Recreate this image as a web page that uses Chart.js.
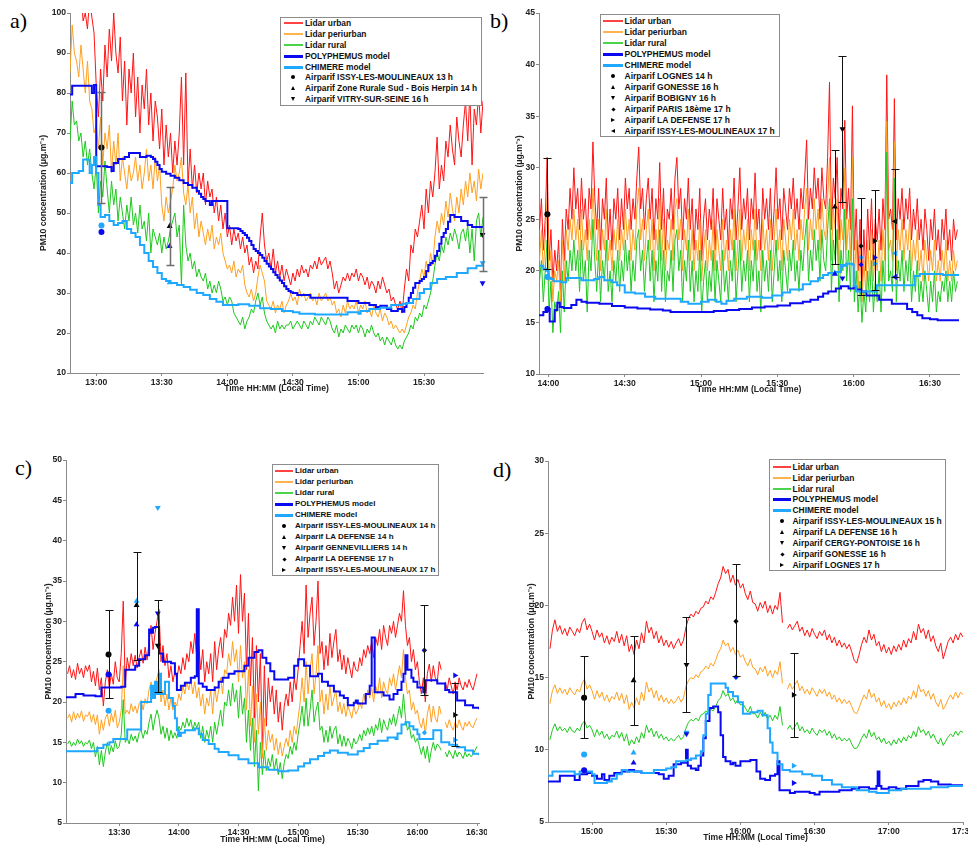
<!DOCTYPE html>
<html lang="en">
<head>
<meta charset="UTF-8">
<title>PM10 concentration - lidar, models and Airparif stations</title>
<script src="https://cdn.jsdelivr.net/npm/chart.js@4"></script>
<style>
  html, body { margin: 0; padding: 0; background: #fff; overflow: hidden; }
  body { width: 968px; height: 844px; position: relative; font-family: "Liberation Sans", Arial, sans-serif; }
  canvas { position: absolute; }
  .tag { position: absolute; font-family: "Liberation Serif", "Times New Roman", serif; font-size: 22px; line-height: 22px; color: #000; }
  .lg { position: absolute; box-sizing: border-box; border: 1px solid #8c8c8c; background: #fff; }
  .lt { position: absolute; font-weight: bold; line-height: 12px; white-space: nowrap; color: #111; }
  .ls, .mk { position: absolute; }
</style>
</head>
<body>
<script>
// time values are minutes after midnight (local time)

// ---------- panel a ----------
const aLidarStart = 768, aLidarStep = 1;
const aUrban = [108,112,105,115,110,106,98,100,96,104,
  99,95,82,74,86,78,92,84,96,88, 100,90,85,94,78,88,72,86,80,90,
  74,84,70,82,76,86,72,80,68,78, 74,66,76,62,72,64,70,60,68,62,
  70,84,62,85,57,66,56,62,55,60, 56,60,52,58,54,56,50,54,48,52,
  46,50,44,47,42,46,43,45,41,44, 40,42,37,39,35,38,36,44,50,42,
  38,40,36,41,35,38,34,37,33,36, 34,32,35,33,36,34,37,35,36,34,
  37,36,38,36,39,37,38,39,36,38, 35,31,33,30,32,34,33,35,33,35,
  34,36,33,35,34,32,34,31,33,32, 30,33,31,34,32,30,31,28,29,27,
  26,28,25,31,36,33,42,40,46,44, 48,52,46,56,50,58,54,60,69,56,
  62,58,68,64,72,66,62,74,68,64, 72,78,68,80,62,76,72,80,70,78];
const aPeri = [85,97,90,88,84,92,86,80,88,78,
  76,70,72,66,74,62,70,66,72,60, 68,62,70,58,64,60,56,62,58,60,
  64,58,62,56,60,66,58,62,56,64, 58,62,52,48,54,50,53,56,62,58,
  60,64,55,52,57,50,54,46,50,44, 48,45,42,46,43,47,41,44,42,45,
  40,38,36,37,35,38,34,36,35,37, 32,30,29,31,28,30,34,37,35,33,
  28,27,26,28,25,27,26,28,25,27, 28,30,28,29,27,31,29,30,28,29,
  30,28,29,27,30,28,29,30,28,29, 27,28,25,26,24,27,25,28,26,27,
  26,28,25,27,26,28,25,26,24,27, 25,24,26,23,25,24,22,23,21,22,
  21,20,21,20,22,24,25,27,26,30, 33,36,34,38,35,40,37,44,48,45,
  50,47,53,49,55,51,48,54,50,56, 52,58,54,60,55,58,53,61,56,60];
const aRural = [68,78,72,73,68,70,64,68,62,66,
  60,56,62,50,58,54,63,56,50,58, 52,56,48,54,50,46,52,48,54,47,
  50,45,52,46,48,43,50,40,46,44, 42,45,40,44,41,43,46,48,50,44,
  47,32,52,42,38,40,36,38,34,36, 34,33,35,31,33,30,32,30,33,31,
  28,29,27,29,28,25,24,23,22,24, 21,23,24,26,25,28,30,27,29,25,
  23,22,21,22,20,23,21,22,21,22, 22,23,21,22,23,22,21,23,22,21,
  23,22,24,23,22,24,23,22,24,23, 21,20,22,19,21,20,22,21,20,22,
  21,22,20,22,21,19,21,20,22,20, 19,20,18,19,17,19,18,17,19,17,
  16,17,16,18,19,20,22,21,24,23, 25,24,27,26,28,30,33,37,40,38,
  42,40,44,42,45,43,46,44,41,45, 46,43,47,40,46,38,48,50,44,49];
const aPolyphemus = [[768,79.6],[769,81.8],[777,81.8],[778,80],[779,82],[780,61.7],[785,61.5],[787,60.5],
  [788,62.5],[790,63.5],[793,64],[795,65],[800,64],[803,64.3],[805,64],[806,63.5],[807,62.8],[808,62],
  [809,61],[810,60.3],[812,59.8],[814,59.3],[816,58.8],[818,58.2],[820,57.5],[822,57],[824,56.3],
  [826,55.5],[827,54.8],[828,54],[829,53.5],[830,53],[832,52],[833,53],[838,53],[840,46.2],[845,46],
  [846,45.5],[847,45],[848,44.5],[849,43.8],[850,43],[851,42],[852,41],[853,40.5],[854,40],[855,39.5],
  [856,38.8],[857,38],[858,37.3],[859,36.6],[860,36],[861,35.2],[862,34.5],[863,33.8],[864,33.1],
  [865,32.5],[866,31.7],[867,31],[868,30.5],[869,30.2],[870,30],[872,29.5],[878,28.8],[892,28.8],
  [895,28],[900,27.5],[905,27],[908,26.5],[910,26.8],[913,26],[915,25.5],[918,26],[920,25.3],
  [921,26.5],[922,27.5],[923,28.8],[924,30],[925,31.3],[926,32.5],[928,33],[929,33.5],[930,34],
  [931,35.5],[932,37],[933,37.5],[934,38],[935,39.3],[936,40.5],[937,42.3],[938,44],[939,45],[940,46],
  [941,47.8],[942,49.5],[944,49],[947,48],[950,47],[952,46.5],[957,46.5]];
const aChimere = [[768,57.5],[769,60],[772,60.5],[774,63.4],[776,63.3],[777,60],[778,62],[779,64],
  [780,60],[781,52],[782,49],[784,49.5],[786,48],[788,47],[790,47.5],[792,48],[794,46],[796,45],
  [798,44],[800,42],[802,40],[804,38],[806,36.5],[808,35],[810,33.5],[812,33],[814,32.5],[817,32],
  [820,31.5],[823,30.8],[826,30],[829,29.5],[832,28.5],[835,27.8],[838,27],[845,27.2],[850,26.8],
  [855,26.2],[860,26],[865,25.5],[870,25.2],[873,24.8],[880,24.6],[890,24.6],[895,25.2],[900,24.8],
  [901,25.5],[905,26],[910,26.3],[915,27],[920,27.3],[922,27.5],[925,28.5],[928,30],[930,31],
  [933,32.5],[936,33.5],[940,34],[945,35],[950,36.2],[954,36.8],[957,36.8]];
const aStations = ['Airparif ISSY-LES-MOULINEAUX 13 h', 'Airparif Zone Rurale Sud - Bois Herpin 14 h', 'Airparif VITRY-SUR-SEINE 16 h'];
const aStShape = ['circle', 'up', 'down'];
const aStTime = [782.4, 813.6, 956.8];
const aStObs = [66.4, 46.7, 44.6];
const aStLow = [52.5, 37.0, 35.4];
const aStHigh = [80.3, 56.4, 54.0];
const aStPoly = [45.25, 41.7, 32.5];
const aStChim = [46.9, 32.6, 37.5];
const aTickVals = [780, 810, 840, 870, 900, 930];
const aTickLabels = ['13:00', '13:30', '14:00', '14:30', '15:00', '15:30'];

// ---------- panel b ----------
const bLidarStart = 836.5, bLidarStep = 0.75;
const bUrban = [24,27,22,25,31,21,24,19,22,20, 23,18,25,21,26,24,28,25,30,26,
  28,24,29,25,27,23,28,26,32.5,27, 24,28,22,27,25,29,23,26,22,27,
  25,28,23,27,24,29,26,28,24,27, 25,29,32,26,28,24,27,29,25,28,
  23,27,25,30.5,24,28,22,26,25,28, 24,29,31,26,28,23,27,25,29,24,
  27,22,26,24,28,21,25,27,23,26, 24,28,22,27,25,23,28,24,26,22,
  27,25,29,23,26,30,24,27,25,28, 23,27,25,29.5,24,26,22,28,25,27,
  24,28,23,26,30,25,27,23,28,26, 24,28,26,29,25,27,24,28,26,29,
  32.7,25,28,26,30,27,29,25,30,27, 26,31,38.3,24,29,27,31,23,28,26,
  34.6,25,28,24,36,22,26,20,25,18, 24,20,26,22,27,21,25,23,26,22,
  27,24,39,25,26,24,36.7,23,27,25, 28,24,27,25,28,23,26,24,27,23,
  25,22,26,24,21,25,23,26,22,24, 21,25,23,26,22,24,21,25,23,24];
const bPeri = [21,24,20,23,27,19,22,17,20,19, 21,17,23,19,24,22,25,23,26,23,
  25,21,26,22,24,21,25,23,28,24, 21,25,20,24,22,26,21,23,20,24,
  22,25,21,24,22,26,23,25,21,24, 22,26,28,23,25,21,24,26,22,25,
  20,24,22,27,21,25,20,23,22,25, 21,26,27,23,25,20,24,22,26,21,
  24,20,23,21,25,19,22,24,20,23, 21,25,20,24,22,20,25,21,23,20,
  24,22,26,20,23,26,21,24,22,25, 20,24,22,26,21,23,20,25,22,24,
  21,25,20,23,26,22,24,20,25,23, 21,25,23,26,22,24,21,25,23,26,
  28,22,25,23,27,24,26,22,27,24, 23,27,31,21,26,24,27,20,25,23,
  30,22,25,21,31,19,23,18,22,17, 21,18,23,19,24,19,22,20,23,19,
  24,21,34.5,22,23,21,32.5,20,24,22, 25,21,24,22,25,20,23,21,24,20,
  22,19,23,21,19,22,20,23,19,21, 19,22,20,23,19,21,19,22,20,21];
const bRural = [19,21,17,20,23,16,19,14,17,16, 18,14,20,16,21,19,22,20,23,20,
  22,18,23,19,21,16,22,20,25,21, 18,22,17,21,19,23,18,20,17,21,
  19,22,18,21,19,23,20,22,18,21, 19,23,24,20,22,18,21,23,19,22,
  17,21,19,24,18,22,17,20,19,22, 18,23,24,20,22,17,21,19,23,18,
  21,17,20,18,22,16,19,21,17,20, 18,22,17,21,19,17,22,18,20,17,
  21,19,23,17,20,23,18,21,19,22, 17,21,19,23,18,20,16,22,19,21,
  18,22,17,20,23,19,21,17,22,20, 18,22,20,23,19,21,18,22,20,23,
  25,19,22,20,24,21,23,19,24,21, 20,24,27,18,23,21,24,17,22,20,
  26,19,22,18,27,17,20,16,19,15, 18,16,20,17,21,16,19,17,20,16,
  21,18,31.5,19,20,18,29,17,21,19, 22,18,21,19,22,17,20,18,21,17,
  19,17,20,18,16,19,17,20,16,18, 17,19,18,20,17,19,17,20,18,19];
const bPolyphemus = [[836.3,15.7],[838,16.0],[839.5,16.3],[840.5,15.1],[842.5,16.2],[843.5,16.9],[844.5,16.5],
  [846,16.4],[849,16.7],[851,17.2],[853,17.0],[855,16.9],[860,16.8],[865,16.6],[870,16.45],[875,16.35],
  [880,16.25],[885,16.15],[888,16.0],[895,16.0],[900,16.0],[905,16.1],[910,16.2],[915,16.3],[920,16.45],
  [925,16.55],[930,16.65],[935,16.85],[940,17.0],[943,17.2],[946,17.5],[948,17.8],[950,18.0],[953,18.3],
  [955,18.5],[958,18.3],[960,18.4],[961,18.2],[963,18.0],[965,17.6],[967,17.6],[970,17.2],[973,17.2],
  [975,16.8],[979,16.8],[981,16.3],[983,16.0],[985,15.7],[987,15.4],[990,15.3],[993,15.2],[998,15.2],[1001.4,15.15]];
const bChimere = [[836.3,20.5],[838,20.2],[839,20.0],[840,19.3],[841,19.2],[842,19.0],[845,18.9],[847,19.3],
  [853,19.1],[858,19.2],[860,19.4],[862,19.1],[865,18.9],[867,18.6],[870,17.9],[874,17.8],[878,17.5],
  [882,17.3],[888,17.3],[892,17.0],[895,16.8],[900,17.0],[903,17.2],[906,17.0],[908,16.8],[910,17.1],
  [913,17.3],[918,17.5],[924,17.4],[928,17.6],[932,17.9],[935,18.2],[940,18.7],[943,19.0],[946,19.3],
  [948,19.6],[950,19.8],[953,19.9],[955,20.5],[957,20.7],[959.5,20.6],[960,18.5],[961,18.0],[968,18.0],
  [969,18.6],[983,18.6],[984,19.5],[986,19.7],[995,19.6],[1001.4,19.5]];
const bStations = ['Airparif LOGNES 14 h', 'Airparif GONESSE 16 h', 'Airparif BOBIGNY 16 h', 'Airparif PARIS 18ème 17 h', 'Airparif LA DEFENSE 17 h', 'Airparif ISSY-LES-MOULINEAUX 17 h'];
const bStShape = ['circle', 'up', 'down', 'diamond', 'right', 'left'];
const bStTime = [839.6, 952.6, 955.6, 962.9, 968.2, 976.3];
const bStObs = [25.5, 26.2, 33.75, 22.4, 22.9, 24.8];
const bStLow = [20.16, 20.7, 26.7, 17.7, 18.1, 19.4];
const bStHigh = [30.9, 31.7, 40.8, 27.1, 27.8, 29.9];
const bStPoly = [16.3, 19.7, 19.3, 20.6, 21.3, 19.4];
const bStChim = [19.4, 19.8, 20.5, 21.3, 20.7, 21.7];
const bTickVals = [840, 870, 900, 930, 960, 990];
const bTickLabels = ['14:00', '14:30', '15:00', '15:30', '16:00', '16:30'];

// ---------- panel c ----------
const cLidarStart = 784, cLidarStep = 1;
const cUrban = [23.5,24.5,23,24,22.8,24.8,23.5,24.2,23,24.5, 23.8,24.6,22.5,23.8,22,24.2,21.5,23,19.5,22.5,
  24,21.8,23.5,22.2,25,23,22.5,26,32.5,22, 25.5,24,26,24.5,25.8,24.2,25.5,26.5,24.8,26.8,
  25.2,27.5,29.5,26.5,28.5,30,31.5,25,27,24.5, 26,23,24.5,22.5,23.8,22.8,24.5,23.5,25.5,24,
  26,25,27.5,26,28.5,25.5,27,24,26.5,22.5, 25,23.5,26,22.5,27.5,24,26.5,28,25.5,29,
  28,31,29.5,33,30,34.5,28.5,35.8,30,33.5, 24,31,22,28,18,27,20,26,14,24.5,
  17,23,20,22,18.5,21.5,17.5,20,16.5,19.5, 21,19.5,22.5,20,23,21.5,24,27,30,26,
  34.5,28,31,33,27,30,35,26,27.5,24, 27,24.5,28.5,25.5,27.5,29,25,26.5,24,25.8,
  23.5,25.5,24.2,23,25,24,23.8,25.5,24.5,26.5, 25.5,27,26,27.5,25.5,28,27,29,26.5,29.5,
  28,27,29.5,28.5,30,28,29.5,31,30,33.8, 29.5,27,28,25,26.5,24,25,22.5,21,23,
  20,23.5,24.7,22.5,24.5,23,22.5,25,24,null, 22.5,21.5,23,22,21,22.5,21.5,23,22,21.5,
  22.5,21.8,22.8,22,21.5,22.5,23.5];
const cPeri = [18,18.5,17.5,18.8,17.8,18.6,18,18.9,17.6,18.4, 18.2,18.8,17.5,18.5,17.2,18.4,16,17.8,16.5,18,
  18.5,17,18.6,17.5,19,16.8,17.5,19,24.5,18.5, 19,18.5,19.8,18.8,19.5,18.6,19.8,20.2,19,20.4,
  19.8,21.5,22.5,20.5,22,23,24,20,21.5,19.5, 21,19,20.5,19,20,19.5,21,20.2,22,21,
  22.5,21.5,22.8,21,22.5,20.5,21.8,19.5,21,18.5, 20.5,19.5,21.5,18.5,22,20,21.5,23,21,24,
  23.5,26,24.5,27.5,25,26.5,22.5,27,23,25, 19,24,17,22,15,21,16,20,13,18,
  14,16.5,15,16,14,15.5,13.5,15,13.3,14.5, 15.5,14.5,16.5,15,17,16,18,20,23,20,
  25,21,24,26,21,23.5,27,20,21.5,18.5, 21,19,22,19.5,20.5,21.5,18.8,20,18.5,19.8,
  18.2,19.5,18.8,18,19.5,18.5,19,20,19.2,21, 20,21.5,20.5,21.8,20,22,21,23,20.5,22.5,
  21.5,21,23,22,23.5,21.5,23,24.5,23,26.5, 23,21,21.5,19,20,18.5,19,17.5,16.8,18,
  16,18.5,19.7,17.5,19.5,18,17.5,19.5,18.5,null, 17.5,16.8,17.8,17,16.5,17.5,16.8,17.8,17,16.5,
  17.5,17,17.6,17,16.8,17.5,18];
const cRural = [14.8,15.2,14.5,15,14.6,15.4,14.8,15.2,14.5,15, 14.8,15.3,14.2,15,13.2,14.5,12.2,14,12,13.8,
  15,13.5,14.6,13.8,15.2,14.2,14.5,16,20.3,15, 15.5,14.8,16,15.2,15.8,15,16.2,16.5,15.5,16.5,
  16,17.5,18.5,16.5,18,19,18,16,17,15.5, 16.8,15.2,16.5,15.5,16.2,15.5,17,16.5,17.5,16.8,
  18,17,17.8,16.5,17.5,16.8,17.5,15.5,17,15, 16.5,15.5,17,15,17.5,16,17.5,19,17,20,
  19.5,21.5,19.5,22.3,20,21.5,18,22,18.5,20.5, 15,19,14,18,12,16.5,9,15,11,14,
  11.5,13,12,13.5,11.5,13,11,12.5,10.5,12.5, 13.5,13,14.5,13.5,15,14,16,17.5,19.5,17,
  20.5,17,19,21.5,17.5,19,20,16.5,17,15, 16.5,15,17,15.5,16.5,17,14.8,16,14.5,15.8,
  14.5,15.5,15,14.2,15.5,14.8,15.2,16,15.2,16.5, 15.8,16.8,16,17,15.8,17.2,16.5,18,16.2,17.8,
  17,16.5,18,17.2,18.5,17,18.2,19.5,18,21, 18,16.5,17,15.5,16,15,15.5,14.5,13.5,14.5,
  13,14.5,12.5,14,15,14,14.8,14.5,14,null, 13.8,13.2,14,13.5,13,14,13.2,13.8,13.5,13,
  13.8,13.2,13.6,13.2,13.5,14,14.5];
const cPolyphemus = [[783.2,20.6],[788,21.0],[791,21.0],[792,20.8],[798,20.7],[801,21.8],[811,21.9],[813,24.0],
  [818,24.5],[820,25.3],[823,25.8],[825,29.0],[826,28.6],[827,29.2],[828,29.3],[830,26.0],[832,25.0],
  [836,24.8],[838,23.5],[839,21.5],[841,22.0],[843,22.4],[846,23.0],[848,23.2],[849,31.5],[850,22.3],
  [852,21.9],[854,21.5],[858,21.8],[860,22.5],[862,23.0],[865,23.5],[868,23.8],[870,23.8],[873,24.5],
  [875,25.5],[878,26.2],[880,26.4],[882,25.5],[884,24.8],[886,23.8],[888,22.8],[895,23.0],[898,24.5],
  [900,25.3],[903,24.5],[906,23.2],[910,23.5],[912,22.5],[915,22.0],[918,21.3],[921,20.8],[923,20.5],
  [925,19.6],[928,19.9],[929,20.2],[930,19.8],[934,21.0],[936,22.0],[937,28.0],[938.5,21.2],[943,20.8],
  [946,20.3],[948,21.0],[950,21.5],[952,22.5],[953,23.5],[954,25.8],[955,24.0],[957,23.0],[958,22.5],
  [960,21.8],[963,21.2],[964,22.7],[968,22.7],[970,22.3],[974,21.5],[976,21.2],[980,20.2],[984,19.6],
  [988,19.3],[991,19.1]];
const cChimere = [[783.2,13.9],[795,13.9],[799,14.3],[802,14.7],[805,15.0],[807,15.4],[813,15.4],[814,16.6],
  [820,16.6],[821,20.0],[825,20.0],[826,22.0],[827,20.5],[828,22.5],[829,21.0],[830,23.5],[831,21.0],
  [833,22.5],[835,20.5],[837,19.5],[838,18.0],[839,16.5],[840,15.8],[841,16.2],[843,16.5],[848,16.7],
  [850,16.0],[852,15.3],[855,14.8],[858,14.2],[860,13.8],[865,13.4],[870,12.9],[875,12.4],[880,11.9],
  [885,11.6],[890,11.4],[895,11.5],[900,12.0],[903,12.4],[906,12.9],[910,13.3],[913,13.7],[916,14.0],
  [920,13.7],[925,13.5],[930,13.9],[933,14.3],[936,14.8],[940,15.2],[945,15.6],[949,15.4],[950,16.1],
  [952,17.2],[954,17.5],[956,17.0],[958,16.6],[960,16.0],[961,15.4],[967,15.4],[968,16.5],[971,16.5],
  [972,15.0],[974,15.0],[976,14.7],[980,14.4],[984,14.0],[988,13.6],[991,13.4]];
const cStations = ['Airparif ISSY-LES-MOULINEAUX 14 h', 'Airparif LA DEFENSE 14 h', 'Airparif GENNEVILLIERS 14 h', 'Airparif LA DEFENSE 17 h', 'Airparif ISSY-LES-MOULINEAUX 17 h'];
const cStShape = ['circle', 'up', 'down', 'diamond', 'right'];
const cStTime = [804.6, 818.7, 829.4, 963.5, 978.9];
const cStObs = [25.9, 32.0, 27.0, 26.4, 18.4];
const cStLow = [20.5, 25.2, 21.3, 20.9, 14.5];
const cStHigh = [31.4, 38.6, 32.6, 32.0, 22.4];
const cStPoly = [23.4, 29.6, 31.0, 26.4, 23.3];
const cStChim = [18.9, 32.5, 44.1, 16.2, 15.3];
const cTickVals = [810, 840, 870, 900, 930, 960, 990];
const cTickLabels = ['13:30', '14:00', '14:30', '15:00', '15:30', '16:00', '16:30'];

// ---------- panel d ----------
const dLidarStart = 883, dLidarStep = 1;
const dUrban = [17,18.3,19,18.2,18.6,18,18.4,17.9,18.5,18.2, 17.9,18.4,18.1,18.8,19.1,18.3,18.7,18.2,17.6,18.3,
  17.8,18.1,17.4,17.9,17.3,17.8,17.5,18.2,17.4,18, 17.2,17.9,16.8,17.3,16.6,17.6,17,18.1,17.4,18.9,
  18.1,18.5,17.7,18.2,17.4,17.9,17.2,17.6,17.1,17.5, 17,17.4,17.7,17.2,17.6,18.5,19.1,19.4,19.2,19.6,
  19.4,19.8,19.9,20.3,20.1,20.6,20.4,20.9,21.5,21.9, 22.7,22.2,22.5,21.6,22.1,21.4,21.8,21.2,21.5,20.8,
  20.4,21,20.2,20.1,19.6,20.2,19.8,20.3,19.5,20, 19.4,20,19.7,20.9,18.8,null,18.4,18.7,18.3,18.6,
  18.9,18.2,18.5,17.9,18.3,17.8,18.4,18,17.7,18.2, 17.9,18.3,17.6,18,17.4,17.8,17.2,17.6,17.1,17.4,
  17,17.3,16.8,16.2,16,16.6,17.3,17.8,17.4,18.3, 17.6,18,17.2,17.5,16.8,17.3,16.7,17.1,16.6,17.2,
  16.8,17.3,16.9,17.6,17.1,17.7,17.4,18.2,17.6,18.7, 18.1,18.4,17.7,18.3,17.5,17.9,17.2,16.8,17.4,16.3,
  16.9,17.5,17.8,17.4,18,17.6,18.1,17.8];
const dPeri = [13.2,14.1,14.5,13.9,14.3,13.9,14.2,13.8,14.3,14, 13.8,14.2,14,14.6,14.9,14.2,14.5,14.1,13.5,14.1,
  13.6,14,13.4,13.8,13.3,13.7,13.5,14,13.4,13.9, 13.2,13.8,12.8,13.3,12.9,13.6,13.1,14,13.4,14.7,
  14,14.3,13.6,14.1,13.4,13.8,13.3,13.6,13.2,13.5, 13.2,13.4,13.7,13.3,13.6,14.4,14.8,15,14.9,15.2,
  15,15.4,15.5,15.8,15.6,16,15.8,16.2,16.7,17, 17.6,17.2,17.4,16.8,17.1,16.6,16.9,16.4,16.6,16.1,
  15.8,16.3,15.7,15.6,15.2,15.7,15.4,15.8,15.1,15.5, 15,15.5,15.2,16.1,14.6,null,14.2,14.6,14.2,14.5,
  14.8,14.1,14.4,13.9,14.2,13.8,14.3,14,13.7,14.2, 13.9,14.2,13.7,14,13.5,13.8,13.3,13.6,13.2,13.5,
  13.2,13.4,13,12.6,12.5,12.9,13.4,13.8,13.5,14.2, 13.6,13.9,13.3,13.6,13,13.4,12.9,13.2,12.8,13.3,
  13,13.4,13.1,13.6,13.2,13.7,13.5,14.1,13.6,14.5, 14,14.2,13.7,14.1,13.5,13.9,13.3,13,13.5,12.8,
  13.1,13.5,13.8,13.5,14,13.6,14,13.8];
const dRural = [10.7,11.4,11.8,11.3,11.6,11.3,11.5,11.2,11.6,11.3, 11.2,11.5,11.3,11.8,12,11.5,11.7,11.4,10.9,11.4,
  11,11.3,10.8,11.1,10.7,11,10.9,11.3,10.8,11.2, 10.6,11.1,10.3,10.7,10.4,10.9,10.5,11.2,10.8,11.7,
  11.2,11.5,10.9,11.3,10.8,11.1,10.7,10.9,10.6,10.8, 10.6,10.8,11,10.7,10.9,11.5,11.9,12.1,12,12.2,
  12,12.4,12.5,12.7,12.5,12.8,12.7,13,13.4,13.6, 14.1,13.7,13.9,13.4,13.6,13.2,13.5,13.1,13.2,12.9,
  12.6,13,12.5,12.5,12.2,12.6,12.3,12.6,12.1,12.4, 12,12.4,12.1,13,11.7,null,11.4,11.7,11.4,11.6,
  11.9,11.3,11.6,11.2,11.4,11.1,11.5,11.2,11,11.4, 11.2,11.4,11,11.3,10.8,11.1,10.7,10.9,10.6,10.8,
  10.6,10.8,10.4,10.1,10.1,10.4,10.8,11.1,10.8,11.4, 10.9,11.2,10.7,10.9,10.5,10.8,10.4,10.6,10.3,10.7,
  10.4,10.8,10.5,10.9,10.6,11,10.8,11.3,10.9,11.6, 11.2,11.4,11,11.3,10.8,11.1,10.7,10.4,10.8,10.3,
  10.6,10.9,11.1,10.9,11.3,11,11.3,11.2];
const dPolyphemus = [[882.2,7.8],[887,8.2],[893,7.9],[895,8.3],[898,8.4],[900,8.2],[902,8.0],[904,8.3],[905,7.9],
  [907,8.2],[909,8.4],[912,8.5],[915,8.6],[917,8.5],[920,8.4],[927,8.3],[929,8.0],[931,8.2],[933,9.0],
  [936,9.1],[938,10.0],[938.7,8.9],[940,8.7],[942,8.6],[943,8.9],[944,9.6],[945,10.8],[946,12.0],
  [947.5,12.9],[949,13.0],[951,12.6],[952,11.0],[953,9.5],[954,9.2],[956,9.0],[957,9.1],[958,8.9],
  [960,9.2],[964,9.3],[966.5,8.5],[968,8.0],[970,7.9],[972,8.2],[974,8.3],[975,9.2],[975.8,7.2],
  [980,7.0],[982,7.1],[988,7.0],[990,6.9],[992,7.1],[1000,7.2],[1005,7.3],[1008,7.4],[1012,7.3],
  [1015,7.5],[1015.5,8.5],[1016.2,7.5],[1017,7.3],[1020,7.4],[1023,7.3],[1027,7.5],[1032,7.8],
  [1034,7.9],[1037,7.8],[1040,7.6],[1045,7.55],[1050,7.55]];
const dChimere = [[882.2,8.2],[884,8.5],[893,8.3],[895,8.5],[900,8.3],[901,7.7],[906,7.8],[908,8.0],[910,8.3],
  [912,8.6],[914,8.5],[920,8.4],[925,8.6],[930,8.7],[932,8.8],[934,9.2],[938,9.3],[940,9.4],[942,9.6],
  [944,9.9],[945,11.0],[946,12.5],[947,13.8],[948,14.6],[954,14.3],[955,14.0],[957,13.7],[959,13.3],
  [961,12.5],[964,12.6],[967,12.7],[969,12.4],[971,11.5],[972,10.5],[973,9.8],[975,9.0],[977,8.6],
  [980,8.5],[985,8.3],[989,8.2],[993,7.9],[997,7.6],[1001,7.4],[1007,7.2],[1012,7.1],[1015,7.0],
  [1020,7.2],[1025,7.3],[1030,7.3],[1037,7.4],[1044,7.5],[1050,7.5]];
const dStations = ['Airparif ISSY-LES-MOULINEAUX 15 h', 'Airparif LA DEFENSE 16 h', 'Airparif CERGY-PONTOISE 16 h', 'Airparif GONESSE 16 h', 'Airparif LOGNES 17 h'];
const dStShape = ['circle', 'up', 'down', 'diamond', 'right'];
const dStTime = [896.8, 916.8, 938.2, 958.2, 981.5];
const dStObs = [13.6, 14.8, 15.9, 18.9, 13.8];
const dStLow = [10.8, 11.7, 12.6, 15.1, 10.9];
const dStHigh = [16.5, 17.9, 19.2, 22.9, 16.7];
const dStPoly = [8.58, 9.1, 11.1, 15.05, 7.7];
const dStChim = [9.67, 9.8, 11.2, 15.0, 8.9];
const dTickVals = [900, 930, 960, 990, 1020, 1050];
const dTickLabels = ['15:00', '15:30', '16:00', '16:30', '17:00', '17:30'];

const seriesNames = ['Lidar urban', 'Lidar periurban', 'Lidar rural', 'POLYPHEMUS model', 'CHIMERE model'];

// ---------- drawing ----------
const RED = '#ff1414', ORANGE = '#ffa020', GREEN = '#1ec81e', POLY = '#0a0af0', CHIM = '#1ea8ff';
const INK = '#222', AXIS = '#8a8a8a';
const SHAPES = {
  circle: {style: 'circle', rot: 0, r: 3},
  up: {style: 'triangle', rot: 0, r: 3.4},
  down: {style: 'triangle', rot: 180, r: 3.4},
  diamond: {style: 'rectRot', rot: 0, r: 2.6},
  right: {style: 'triangle', rot: 90, r: 3.4},
  left: {style: 'triangle', rot: 270, r: 3.4}
};
Chart.defaults.font.family = '"Liberation Sans", Arial, sans-serif';
const tickFont = {size: 8.6, weight: 'bold'};

function makePanel(P) {
  const g = P.g;
  const cv = document.createElement('canvas');
  cv.width = g.w; cv.height = g.h;
  cv.style.left = g.cl + 'px'; cv.style.top = g.ct + 'px';
  document.body.appendChild(cv);

  const lidar = vals => vals.map((v, i) => ({x: P.start + i * P.step, y: v}));
  const steps = arr => arr.map(p => ({x: p[0], y: p[1]}));
  const marks = vals => P.stTime.map((t, i) => ({x: t, y: vals[i]}));
  const sh = P.stShape.map(s => SHAPES[s]);
  const markerSet = (vals, color, order) => ({
    data: marks(vals), showLine: false, clip: false, order,
    pointStyle: sh.map(s => s.style), pointRotation: sh.map(s => s.rot), pointRadius: sh.map(s => s.r),
    pointBackgroundColor: color, pointBorderColor: color, pointBorderWidth: 0
  });
  const lineSet = (data, color, width, order, stepped) => ({
    data, borderColor: color, borderWidth: width, pointRadius: 0, spanGaps: false, stepped: !!stepped, order
  });

  const errBars = {
    id: 'errBars',
    afterDatasetsDraw(chart) {
      const {ctx, scales: {x, y}} = chart;
      ctx.save();
      ctx.strokeStyle = P.errColor;
      ctx.lineWidth = P.errWidth;
      P.stTime.forEach((t, i) => {
        const px = Math.round(x.getPixelForValue(t)) + 0.5;
        const y1 = Math.round(y.getPixelForValue(P.stLow[i])) + 0.5;
        const y2 = Math.round(y.getPixelForValue(P.stHigh[i])) + 0.5;
        ctx.beginPath();
        ctx.moveTo(px, y1); ctx.lineTo(px, y2);
        ctx.moveTo(px - 4, y1); ctx.lineTo(px + 4, y1);
        ctx.moveTo(px - 4, y2); ctx.lineTo(px + 4, y2);
        ctx.stroke();
      });
      ctx.restore();
    }
  };

  new Chart(cv, {
    type: 'line',
    data: {
      datasets: [
        lineSet(lidar(P.urban), RED, 1, 9),
        lineSet(lidar(P.peri), ORANGE, 1, 8),
        lineSet(lidar(P.rural), GREEN, 1, 7),
        lineSet(steps(P.poly), POLY, 2, 6, true),
        lineSet(steps(P.chim), CHIM, 2, 5, true),
        markerSet(P.stObs, '#000', 4),
        markerSet(P.stChim, CHIM, 3),
        markerSet(P.stPoly, POLY, 2)
      ]
    },
    options: {
      responsive: false, animation: false, events: [],
      layout: {padding: {top: g.pt, right: g.pr, left: 0, bottom: 0}},
      plugins: {legend: {display: false}, tooltip: {enabled: false}},
      scales: {
        x: {
          type: 'linear', min: P.xMin, max: P.xMax,
          afterBuildTicks: s => { s.ticks = P.tickVals.map(v => ({value: v})); },
          afterFit: s => { s.height = g.xh; s.paddingLeft = 0; s.paddingRight = 0; },
          ticks: {autoSkip: false, maxRotation: 0, padding: 1, color: INK, font: tickFont,
                  callback: (v, i) => P.tickLabels[i]},
          grid: {drawOnChartArea: false, tickLength: 3, color: AXIS},
          border: {color: AXIS},
          title: {display: true, text: 'Time HH:MM (Local Time)', color: INK, font: tickFont,
                  padding: {top: 0, bottom: g.xtp}}
        },
        y: {
          min: P.yMin, max: P.yMax,
          afterFit: s => { s.width = g.yw; s.paddingTop = 0; s.paddingBottom = 0; },
          ticks: {stepSize: P.yStep, padding: 1, color: INK, font: tickFont},
          grid: {drawOnChartArea: false, tickLength: 3, color: AXIS},
          border: {color: AXIS},
          title: {display: true, text: 'PM10 concentration (μg.m⁻³)', color: INK, font: tickFont,
                  padding: {top: g.ytp, bottom: 0}}
        }
      }
    },
    plugins: [errBars]
  });

  // legend box
  const L = P.lg;
  const box = document.createElement('div');
  box.className = 'lg';
  Object.assign(box.style, {left: L.l + 'px', top: L.t + 'px', width: (L.r - L.l) + 'px', height: (L.b - L.t) + 'px'});
  document.body.appendChild(box);
  const colors = [RED, ORANGE, GREEN, POLY, CHIM];
  const names = seriesNames.concat(P.stations);
  names.forEach((name, i) => {
    const cy = L.c0 + L.dy * i;
    const ry = Math.round(cy);
    if (i < 5) {
      const w = i < 3 ? 2 : 3;
      const s = document.createElement('div');
      s.className = 'ls';
      Object.assign(s.style, {left: L.lx0 + 'px', width: (L.lx1 - L.lx0) + 'px', top: (ry - 1) + 'px', height: w + 'px', backgroundColor: colors[i], opacity: i < 3 ? 0.8 : 1});
      document.body.appendChild(s);
    } else {
      const m = document.createElement('div');
      m.className = 'mk';
      const k = P.stShape[i - 5];
      const mx = L.mx;
      if (k === 'circle') Object.assign(m.style, {left: (mx - 2) + 'px', top: (ry - 2) + 'px', width: '4px', height: '4px', borderRadius: '50%', background: '#000'});
      if (k === 'diamond') Object.assign(m.style, {left: (mx - 1.5) + 'px', top: (ry - 1.5) + 'px', width: '3px', height: '3px', background: '#000', transform: 'rotate(45deg)'});
      if (k === 'up') Object.assign(m.style, {left: (mx - 2.5) + 'px', top: (ry - 2) + 'px', borderLeft: '2.5px solid transparent', borderRight: '2.5px solid transparent', borderBottom: '4px solid #000'});
      if (k === 'down') Object.assign(m.style, {left: (mx - 2.5) + 'px', top: (ry - 2) + 'px', borderLeft: '2.5px solid transparent', borderRight: '2.5px solid transparent', borderTop: '4px solid #000'});
      if (k === 'right') Object.assign(m.style, {left: (mx - 2) + 'px', top: (ry - 2.5) + 'px', borderTop: '2.5px solid transparent', borderBottom: '2.5px solid transparent', borderLeft: '4px solid #000'});
      if (k === 'left') Object.assign(m.style, {left: (mx - 2) + 'px', top: (ry - 2.5) + 'px', borderTop: '2.5px solid transparent', borderBottom: '2.5px solid transparent', borderRight: '4px solid #000'});
      document.body.appendChild(m);
    }
    const t = document.createElement('div');
    t.className = 'lt';
    t.textContent = name;
    Object.assign(t.style, {left: L.tx + 'px', top: (cy - 6) + 'px', fontSize: L.fs + 'px'});
    document.body.appendChild(t);
  });

  const tag = document.createElement('div');
  tag.className = 'tag';
  tag.textContent = P.tag;
  Object.assign(tag.style, {left: P.tagPos[0] + 'px', top: P.tagPos[1] + 'px'});
  document.body.appendChild(tag);
}

makePanel({
  tag: 'a)', tagPos: [10, 10],
  g: {cl: 35, ct: 5, w: 454, h: 391, yw: 35, pt: 8, pr: 6, xh: 23, ytp: 3.1, xtp: 2.5},
  lg: {l: 280, t: 17, r: 482, b: 106, c0: 22.7, dy: 10.95, lx0: 284, lx1: 303, tx: 305, mx: 293, fs: 8.4},
  xMin: 768, xMax: 957, yMin: 10, yMax: 100, yStep: 10,
  tickVals: aTickVals, tickLabels: aTickLabels,
  start: aLidarStart, step: aLidarStep, urban: aUrban, peri: aPeri, rural: aRural,
  poly: aPolyphemus, chim: aChimere,
  stations: aStations, stShape: aStShape, stTime: aStTime, stObs: aStObs, stLow: aStLow, stHigh: aStHigh,
  stPoly: aStPoly, stChim: aStChim, errColor: '#6e6e6e', errWidth: 1.5
});
makePanel({
  tag: 'b)', tagPos: [490, 10],
  g: {cl: 511, ct: 5, w: 454, h: 393, yw: 28, pt: 8, pr: 6, xh: 24, ytp: 3.1, xtp: 2.84},
  lg: {l: 600, t: 14, r: 780, b: 137, c0: 21, dy: 11, lx0: 603, lx1: 623, tx: 624.5, mx: 613, fs: 8.5},
  xMin: 836.3, xMax: 1001.4, yMin: 10, yMax: 45, yStep: 5,
  tickVals: bTickVals, tickLabels: bTickLabels,
  start: bLidarStart, step: bLidarStep, urban: bUrban, peri: bPeri, rural: bRural,
  poly: bPolyphemus, chim: bChimere,
  stations: bStations, stShape: bStShape, stTime: bStTime, stObs: bStObs, stLow: bStLow, stHigh: bStHigh,
  stPoly: bStPoly, stChim: bStChim, errColor: '#111', errWidth: 1
});
makePanel({
  tag: 'c)', tagPos: [15, 457],
  g: {cl: 40, ct: 452, w: 447, h: 395, yw: 26, pt: 8, pr: 8, xh: 24, ytp: 3.1, xtp: 2.5},
  lg: {l: 272, t: 464, r: 439, b: 576, c0: 471, dy: 11.04, lx0: 275, lx1: 293, tx: 295, mx: 284, fs: 7.95},
  xMin: 783.2, xMax: 991, yMin: 5, yMax: 50, yStep: 5,
  tickVals: cTickVals, tickLabels: cTickLabels,
  start: cLidarStart, step: cLidarStep, urban: cUrban, peri: cPeri, rural: cRural,
  poly: cPolyphemus, chim: cChimere,
  stations: cStations, stShape: cStShape, stTime: cStTime, stObs: cStObs, stLow: cStLow, stHigh: cStHigh,
  stPoly: cStPoly, stChim: cStChim, errColor: '#111', errWidth: 1
});
makePanel({
  tag: 'd)', tagPos: [493, 459],
  g: {cl: 524, ct: 453, w: 469, h: 393, yw: 24, pt: 8, pr: 30, xh: 24, ytp: 2.5, xtp: 3.1},
  lg: {l: 769, t: 459, r: 946, b: 571, c0: 466.7, dy: 10.9, lx0: 773, lx1: 791, tx: 792.5, mx: 782, fs: 8.45},
  xMin: 882.2, xMax: 1050, yMin: 5, yMax: 30, yStep: 5,
  tickVals: dTickVals, tickLabels: dTickLabels,
  start: dLidarStart, step: dLidarStep, urban: dUrban, peri: dPeri, rural: dRural,
  poly: dPolyphemus, chim: dChimere,
  stations: dStations, stShape: dStShape, stTime: dStTime, stObs: dStObs, stLow: dStLow, stHigh: dStHigh,
  stPoly: dStPoly, stChim: dStChim, errColor: '#111', errWidth: 1
});
</script>
</body>
</html>
